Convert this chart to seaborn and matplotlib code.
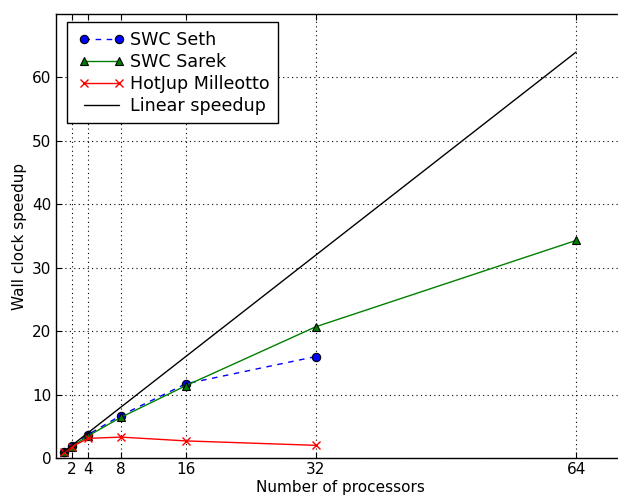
import matplotlib
matplotlib.use("Agg")
import matplotlib.pyplot as plt
from matplotlib.lines import Line2D
from matplotlib.legend_handler import HandlerLine2D
import seaborn as sns
import pandas as pd

# Measured wall-clock speedups per machine
procs_seth = [1, 2, 4, 8, 16, 32]
speedup_seth = [1.0, 1.9, 3.7, 6.7, 11.7, 16.0]

procs_sarek = [1, 2, 4, 8, 16, 32, 64]
speedup_sarek = [1.0, 1.8, 3.5, 6.4, 11.4, 20.7, 34.3]

procs_hotjup = [1, 2, 4, 8, 16, 32]
speedup_hotjup = [1.0, 1.8, 3.1, 3.3, 2.7, 2.0]

procs_linear = [1, 64]
speedup_linear = [1, 64]

x_ticks = [2, 4, 8, 16, 32, 64]
y_ticks = [0, 10, 20, 30, 40, 50, 60]

sns.set_style("ticks")
plt.rcParams.update({
    "font.family": ["DejaVu Sans"],
    "text.color": "black",
    "axes.labelcolor": "black",
    "xtick.direction": "in",
    "ytick.direction": "in",
    "xtick.top": True,
    "ytick.right": True,
    "xtick.major.size": 4,
    "ytick.major.size": 4,
    "axes.linewidth": 1.0,
    "axes.edgecolor": "black",
    "xtick.color": "black",
    "ytick.color": "black",
})

fig = plt.figure(figsize=(6.18, 4.95), dpi=100)
ax = fig.add_axes([0.0901, 0.0747, 0.921, 0.897])

sns.lineplot(x=procs_seth, y=speedup_seth, ax=ax, color="blue", marker="o",
             linestyle=(0, (4, 4)), markersize=6, markeredgecolor="black",
             markeredgewidth=0.8, linewidth=1, label="SWC Seth", errorbar=None)
sns.lineplot(x=procs_sarek, y=speedup_sarek, ax=ax, color="green", marker="^",
             linestyle="-", markersize=6, markeredgecolor="black",
             markeredgewidth=0.8, linewidth=1, label="SWC Sarek", errorbar=None)
sns.lineplot(x=procs_hotjup, y=speedup_hotjup, ax=ax, color="red", marker="x",
             linestyle="-", markersize=6, markeredgecolor="red",
             markeredgewidth=1, linewidth=1, label="HotJup Milleotto", errorbar=None)
sns.lineplot(x=procs_linear, y=speedup_linear, ax=ax, color="black",
             linewidth=1, label="Linear speedup", errorbar=None)

ax.set_xlim(0, 70)
ax.set_ylim(0, 70)
ax.set_xticks(x_ticks)
ax.set_yticks(y_ticks)
ax.tick_params(labelsize=11, pad=3)
ax.grid(True, linestyle=(0, (1, 3)), color="black", linewidth=0.8)

ax.set_xlabel("Number of processors", fontsize=11, labelpad=2)
ax.set_ylabel("Wall clock speedup", fontsize=11, labelpad=4)

leg = ax.legend(loc="upper left", bbox_to_anchor=(0.0193, 0.981),
                borderaxespad=0, numpoints=2, fontsize=12.6, fancybox=False,
                framealpha=1, edgecolor="black", handlelength=3.0,
                handletextpad=0.1, labelspacing=0.22, borderpad=0.5,
                handler_map={Line2D: HandlerLine2D(marker_pad=0.5)})
leg.get_frame().set_linewidth(1.0)

fig.savefig("out.png", dpi=100)
